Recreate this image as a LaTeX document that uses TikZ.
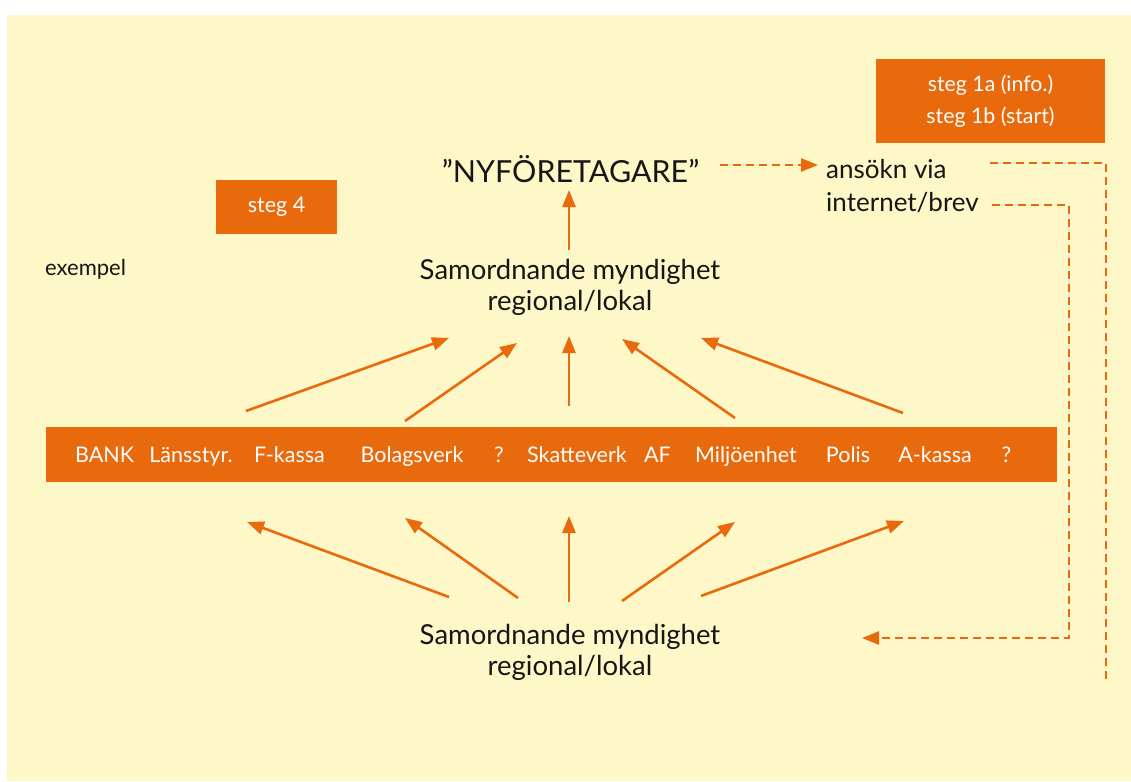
\documentclass[tikz,border=0pt]{standalone}
\usepackage{fontspec}
\setmainfont{Lato}
\usetikzlibrary{arrows.meta}
\definecolor{bgyellow}{HTML}{FEF7C8}
\definecolor{korange}{HTML}{E9690D}
\definecolor{ink}{HTML}{161616}
\tikzset{
  x=1pt, y=-1pt,
  obox/.style={fill=korange, draw=none, text=white, inner sep=0pt, align=center},
  lbl/.style={text=ink, inner sep=0pt, anchor=base},
  striptxt/.style={text=white, inner sep=0pt, anchor=base, font=\fontsize{21.5}{24}\selectfont},
  bigtxt/.style={lbl, align=center, font=\fontsize{27.5}{31}\selectfont},
  arr/.style={draw=korange, line width=2.6pt, -{Triangle[length=17pt,width=13pt]}},
  dashline/.style={draw=korange, line width=2.6pt, dash pattern=on 8pt off 5pt},
  dasharr/.style={dashline, -{Triangle[length=17pt,width=13pt]}},
}
\begin{document}
\begin{tikzpicture}
\useasboundingbox (0,0) rectangle (1131,781);
\fill[bgyellow] (7,15) rectangle (1131,781);

% boxes
\node[obox, minimum width=229pt, minimum height=84pt, font=\fontsize{21.3}{32}\selectfont] (s1) at (990.5,101) {steg 1a (info.)\\steg 1b (start)};
\node[obox, minimum width=121pt, minimum height=54pt, font=\fontsize{21.5}{24}\selectfont] (s4) at (276.5,207) {steg 4};
\node[lbl, anchor=base west, font=\fontsize{22}{24}\selectfont] (ex) at (45,275) {exempel};

% main texts
\node[lbl, font=\fontsize{30.4}{34}\selectfont] (nyf) at (570.5,182) {”NYFÖRETAGARE”};
\node[lbl, anchor=base west, align=left, font=\fontsize{26}{33}\selectfont] (ans) at (826,211) {ansökn via\\internet/brev};
\node[bigtxt] (sam1) at (570,310) {Samordnande myndighet\\regional/lokal};
\node[bigtxt] (sam2) at (570,675) {Samordnande myndighet\\regional/lokal};

% strip
\node[fill=korange, draw=none, minimum width=1011pt, minimum height=55pt, inner sep=0pt] (strip) at (551.5,454.5) {};
\node[striptxt] (t1) at (104.5,462.5) {BANK};
\node[striptxt] (t2) at (191,462.5) {Länsstyr.};
\node[striptxt] (t3) at (289.5,462.5) {F-kassa};
\node[striptxt] (t4) at (412,462.5) {Bolagsverk};
\node[striptxt] (t5) at (499,462.5) {?};
\node[striptxt] (t6) at (577,462.5) {Skatteverk};
\node[striptxt] (t7) at (657.5,462.5) {AF};
\node[striptxt] (t8) at (746,462.5) {Miljöenhet};
\node[striptxt] (t9) at (848,462.5) {Polis};
\node[striptxt] (t10) at (935,462.5) {A-kassa};
\node[striptxt] (t11) at (1006.5,462.5) {?};

% connector coordinates
\coordinate (c0a) at (569,250); \coordinate (c0b) at (569,190);
\coordinate (u1a) at (246,411); \coordinate (u1b) at (449,338);
\coordinate (u2a) at (405,421); \coordinate (u2b) at (517,343);
\coordinate (u3a) at (569,406); \coordinate (u3b) at (569,336);
\coordinate (u4a) at (735,418); \coordinate (u4b) at (622,339);
\coordinate (u5a) at (903,413); \coordinate (u5b) at (701,338);
\coordinate (l1a) at (449,597); \coordinate (l1b) at (247,522);
\coordinate (l2a) at (518,598); \coordinate (l2b) at (405,518);
\coordinate (l3a) at (569,602); \coordinate (l3b) at (569,516);
\coordinate (l4a) at (622,601); \coordinate (l4b) at (735,522);
\coordinate (l5a) at (701,596); \coordinate (l5b) at (904,521);
\coordinate (d1a) at (720,165); \coordinate (d1b) at (818,165);
\coordinate (d2a) at (990,163); \coordinate (d2b) at (1106,163); \coordinate (d2c) at (1106,680);
\coordinate (d3a) at (992,205); \coordinate (d3b) at (1069,205); \coordinate (d3c) at (1069,638); \coordinate (d3d) at (862,638);

\draw[arr] (c0a) -- (c0b);
\foreach \p in {u1,u2,u3,u4,u5,l1,l2,l3,l4,l5} {\draw[arr] (\p a) -- (\p b);}
\draw[dasharr] (d1a) -- (d1b);
\draw[dashline] (d2a) -- (d2b) -- (d2c);
\draw[dasharr] (d3a) -- (d3b) -- (d3c) -- (d3d);
\end{tikzpicture}
\end{document}
